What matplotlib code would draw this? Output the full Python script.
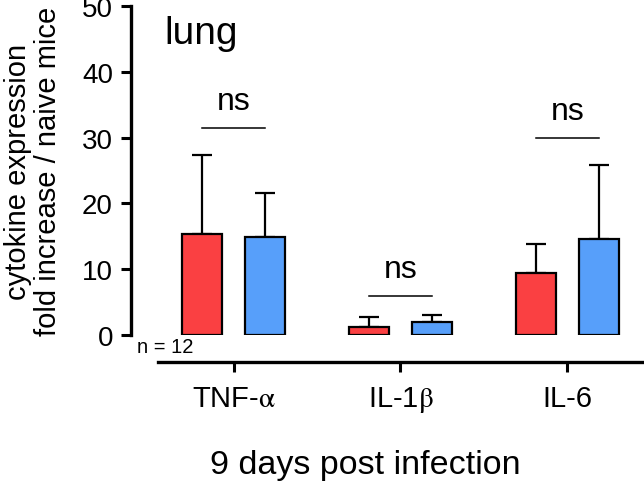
import matplotlib.pyplot as plt
import numpy as np

plt.rcParams['font.family'] = ['Liberation Sans', 'DejaVu Sans']
plt.rcParams['mathtext.fontset'] = 'stix'

cytokines = ['TNF-$\\mathrm{\\alpha}$', 'IL-1$\\mathrm{\\beta}$', 'IL-6']
red_mean = [15.4, 1.2, 9.5]
red_top = [27.3, 2.7, 13.9]   # mean + SD (cap position)
blue_mean = [14.9, 2.0, 14.6]
blue_top = [21.5, 3.0, 25.8]
ns_height = [31.5, 5.9, 29.9]

red = '#FA4042'
blue = '#579FFA'

fig = plt.figure(figsize=(6.44, 4.85), dpi=100)
ax = fig.add_axes([0.2034, 0.307, 0.7966, 0.679])

x = np.arange(len(cytokines))
w = 0.24
off = 0.19
red_err = [np.zeros(3), np.array(red_top) - np.array(red_mean)]
blue_err = [np.zeros(3), np.array(blue_top) - np.array(blue_mean)]

ax.bar(x - off, red_mean, w, color=red, edgecolor='black', linewidth=1.6, zorder=3)
ax.bar(x + off, blue_mean, w, color=blue, edgecolor='black', linewidth=1.6, zorder=3)
ax.errorbar(x - off, red_mean, yerr=red_err, fmt='none', ecolor='black',
            elinewidth=1.6, capsize=7.5, capthick=1.6, zorder=2)
ax.errorbar(x + off, blue_mean, yerr=blue_err, fmt='none', ecolor='black',
            elinewidth=1.6, capsize=7.5, capthick=1.6, zorder=2)

# significance marks
for i, h in enumerate(ns_height):
    ax.plot([i - off, i + off], [h, h], color='black', lw=1.1)
    ax.text(i, h + 1.8, 'ns', ha='center', va='bottom', fontsize=23)

ax.set_xlim(-0.615, 2.46)
ax.set_ylim(0, 50)
ax.set_yticks([0, 10, 20, 30, 40, 50])
ax.set_xticks(x)
ax.set_xticklabels(cytokines)
ax.tick_params(axis='y', labelsize=20, width=2.2, length=7, pad=6)
ax.tick_params(axis='x', labelsize=21, width=2.2, length=7, pad=9)

ax.spines['top'].set_visible(False)
ax.spines['right'].set_visible(False)
ax.spines['left'].set_linewidth(2.4)
ax.spines['bottom'].set_linewidth(2.4)
ax.spines['bottom'].set_position(('outward', 19.5))
ax.spines['bottom'].set_bounds(-0.453, 2.46)

ax.set_ylabel('cytokine expression\nfold increase / naive mice', fontsize=21,
              linespacing=1.1, labelpad=14)
ax.set_xlabel('9 days post infection', fontsize=24.5)
ax.xaxis.set_label_coords(0.456, -0.345)

ax.text(0.065, 0.972, 'lung', transform=ax.transAxes, fontsize=28,
        va='top', ha='left')
ax.text(0.012, -0.005, 'n = 12', transform=ax.transAxes, fontsize=14.5,
        va='top', ha='left')

fig.savefig('out.png', dpi=100)
